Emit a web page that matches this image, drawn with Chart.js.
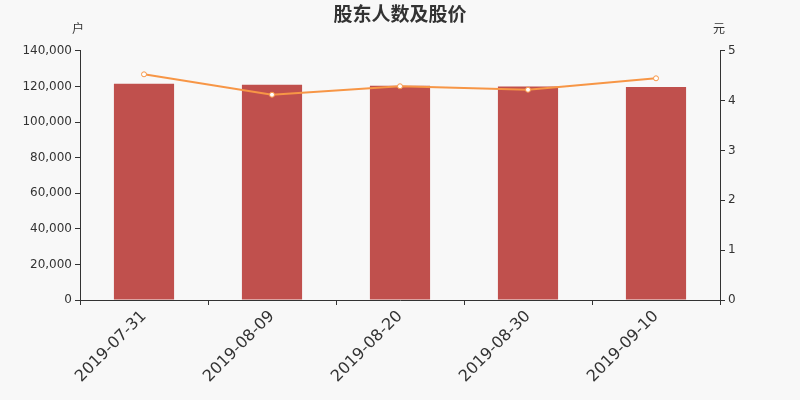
<!DOCTYPE html>
<html lang="zh">
<head>
<meta charset="UTF-8">
<title>股东人数及股价</title>
<script src="https://cdn.jsdelivr.net/npm/chart.js"></script>
<style>
    html, body { margin: 0; padding: 0; background: #f8f8f8; }
</style>
</head>
<body>

<div style="width: 800px; height: 400px;">
    <canvas id="holderChart"></canvas>
</div>

<script>
    // data
    var dates = ['2019-07-31', '2019-08-09', '2019-08-20', '2019-08-30', '2019-09-10'];
    var holders = [121500, 120950, 120400, 120000, 119650];
    var prices = [4.53, 4.12, 4.29, 4.22, 4.45];

    var cjkFont = '"Noto Sans CJK SC", "DejaVu Sans", sans-serif';
    var numFont = '"DejaVu Sans", sans-serif';

    // small unit labels above the two y axes
    var unitLabels = {
        id: 'unitLabels',
        afterDraw: function(chart) {
            var c = chart.ctx;
            c.save();
            c.fillStyle = '#333';
            c.font = '12px ' + cjkFont;
            c.textAlign = 'center';
            c.textBaseline = 'middle';
            c.fillText('户', chart.scales.y.right - 2, 28);
            c.fillText('元', chart.scales.y1.left - 1, 28);
            c.restore();
        }
    };

    var ctx = document.getElementById('holderChart').getContext('2d');

    var holderChart = new Chart(ctx, {
        data: {
            labels: dates,
            datasets: [{
                type: 'line',
                label: '股价',
                data: prices,
                yAxisID: 'y1',
                borderColor: '#f79646',
                borderWidth: 2,
                pointRadius: 2.5,
                pointBackgroundColor: '#ffffff',
                pointBorderColor: '#f79646',
                pointBorderWidth: 1,
                tension: 0,
                order: 0
            }, {
                type: 'bar',
                label: '股东人数',
                data: holders,
                yAxisID: 'y',
                backgroundColor: '#c0504d',
                barPercentage: 0.47,
                categoryPercentage: 1,
                order: 1
            }]
        },
        options: {
            responsive: true,
            maintainAspectRatio: false,
            animation: false,
            layout: { padding: 0 },
            plugins: {
                legend: { display: false },
                tooltip: { enabled: false },
                title: {
                    display: true,
                    text: '股东人数及股价',
                    color: '#333',
                    font: { family: cjkFont, size: 19, weight: 'bold', lineHeight: 1.1 },
                    padding: { top: 3, bottom: 27 }
                }
            },
            scales: {
                x: {
                    offset: true,
                    grid: {
                        offset: true,
                        drawOnChartArea: false,
                        drawTicks: true,
                        tickLength: 5,
                        color: '#333'
                    },
                    border: { color: '#333' },
                    ticks: {
                        color: '#333',
                        font: { family: numFont, size: 16 },
                        minRotation: 45,
                        maxRotation: 45,
                        padding: 2
                    },
                    afterFit: function(scale) { scale.height = 100; }
                },
                y: {
                    position: 'left',
                    min: 0,
                    max: 140000,
                    grid: {
                        drawOnChartArea: false,
                        tickLength: 5,
                        color: '#333'
                    },
                    border: { color: '#333' },
                    ticks: {
                        stepSize: 20000,
                        color: '#333',
                        font: { family: numFont, size: 12 },
                        padding: 3,
                        callback: function(v) { return v.toLocaleString('en-US'); }
                    },
                    afterFit: function(scale) { scale.width = 80; }
                },
                y1: {
                    position: 'right',
                    min: 0,
                    max: 5,
                    grid: {
                        drawOnChartArea: false,
                        tickLength: 5,
                        color: '#333'
                    },
                    border: { color: '#333' },
                    ticks: {
                        stepSize: 1,
                        color: '#333',
                        font: { family: numFont, size: 12 },
                        padding: 3
                    },
                    afterFit: function(scale) { scale.width = 80; }
                }
            }
        },
        plugins: [unitLabels]
    });
</script>

</body>
</html>
